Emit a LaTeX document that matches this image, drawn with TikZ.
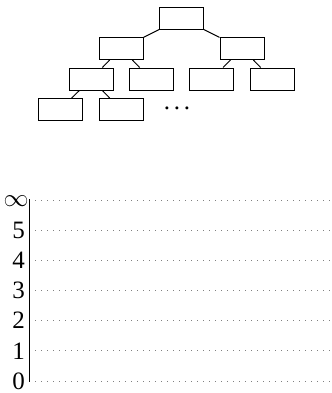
\documentclass[tikz,border=0pt]{standalone}
\usepackage{fontspec}
\setmainfont{Liberation Serif}
\usepackage{tikz}

\begin{document}
\begin{tikzpicture}[x=0.4pt, y=-0.4pt,
    blk/.style={draw, rectangle, inner sep=0pt, minimum width=17.6pt, minimum height=8.8pt}]
  \useasboundingbox (0,0) rectangle (332,393);
  % the tree
  \node[blk] (root) at (181.5,18.5) {};
  \node[blk] (l) at (121,48.5) {};
  \node[blk] (r) at (242,48.5) {};
  \node[blk] (ll) at (91,79) {};
  \node[blk] (lr) at (151,79) {};
  \node[blk] (rl) at (211.5,79) {};
  \node[blk] (rr) at (272,79) {};
  \node[blk] (lll) at (60,109.5) {};
  \node[blk] (llr) at (121,109.5) {};
  \node[anchor=base, inner sep=0pt] (more) at (177,109.5) {.\kern1.5pt.\kern1.5pt.};
  \draw (root)--(l);
  \draw (root)--(r);
  \draw (l)--(ll);
  \draw (l)--(lr);
  \draw (r)--(rl);
  \draw (r)--(rr);
  \draw (ll)--(lll);
  \draw (ll)--(llr);

  % the levels
  \draw (29,199)--(29,382);
  \foreach \lv/\txt [count=\i from 0] in {381/0, 350.8/1, 320.7/2, 290.5/3, 260.3/4, 230.2/5} {
    \draw[dotted, gray] (35,\lv)--(332,\lv);
    \node[anchor=east, inner sep=0pt] (lab\i) at (25.5,\lv) {\txt};
  }
  \draw[dotted, gray] (35,200)--(332,200);
  \node[anchor=east, inner sep=0pt] (labinf) at (29,201) {$\infty$};

\end{tikzpicture}
\end{document}
